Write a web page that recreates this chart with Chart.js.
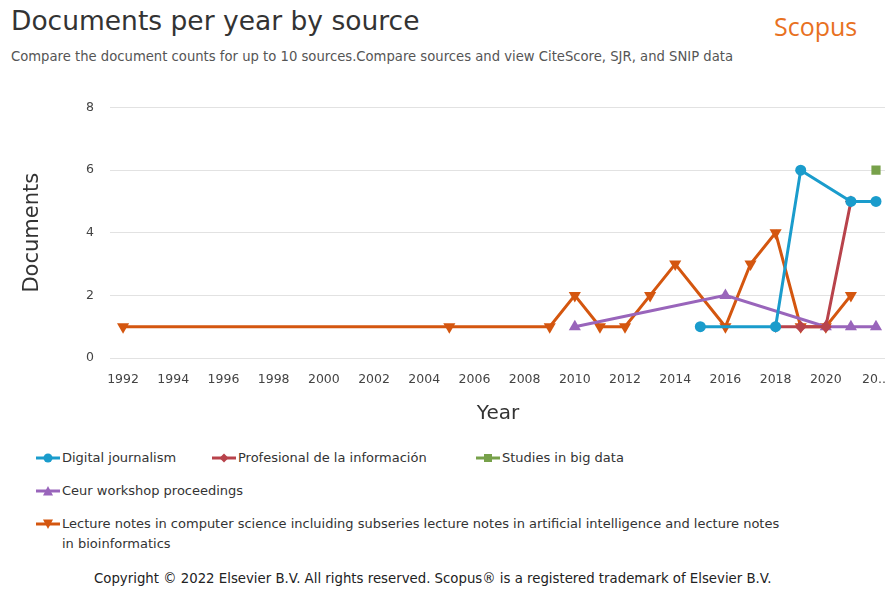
<!DOCTYPE html>
<html>
<head>
<meta charset="utf-8">
<script src="https://cdn.jsdelivr.net/npm/chart.js@4.4.1/dist/chart.umd.min.js"></script>
<style>
  body { margin: 0; width: 885px; height: 590px; background: #fff; font-family: "DejaVu Sans", sans-serif; color: #333; position: relative; overflow: hidden; }
  #title { position: absolute; left: 11px; top: 5px; font-size: 26.5px; color: #333; }
  #brand { position: absolute; left: 774px; top: 9px; font-size: 25px; color: #e8711f; font-family: "Open Sans", sans-serif; }
  #subtitle { position: absolute; left: 11px; top: 49px; font-size: 13.2px; color: #555; }
  #wrap { position: absolute; left: 0; top: 84px; width: 904px; height: 346px; }
  #legend { position: absolute; left: 36px; top: 448px; width: 760px; font-size: 13px; color: #333; }
  .item { position: absolute; display: flex; align-items: flex-start; line-height: 20px; }
  .item svg { flex: none; margin-top: 3px; margin-right: 2px; }
  #copy { position: absolute; left: 94px; top: 571px; font-size: 13.3px; color: #222; }
</style>
</head>
<body>
<div id="title">Documents per year by source</div>
<div id="brand">Scopus</div>
<div id="subtitle">Compare the document counts for up to 10 sources.Compare sources and view CiteScore, SJR, and SNIP data</div>
<div id="wrap"><canvas id="chart"></canvas></div>
<div id="legend"></div>
<div id="copy">Copyright © 2022 Elsevier B.V. All rights reserved. Scopus® is a registered trademark of Elsevier B.V.</div>
<script>
// tick labels for the x axis
const tickYears = [1992, 1994, 1996, 1998, 2000, 2002, 2004, 2006, 2008, 2010, 2012, 2014, 2016, 2018, 2020, 2022];

// Digital journalism
const djYears = [2015, 2018, 2019, 2021, 2022];
const djDocs = [1, 1, 6, 5, 5];

// Profesional de la información
const piYears = [2018, 2019, 2020, 2021];
const piDocs = [1, 1, 1, 5];

// Studies in big data
const sbdYears = [2022];
const sbdDocs = [6];

// Ceur workshop proceedings
const ceurYears = [2010, 2016, 2020, 2021, 2022];
const ceurDocs = [1, 2, 1, 1, 1];

// Lecture notes in computer science ...
const lncsYears = [1992, 2005, 2009, 2010, 2011, 2012, 2013, 2014, 2016, 2017, 2018, 2019, 2020, 2021];
const lncsDocs = [1, 1, 1, 2, 1, 1, 2, 3, 1, 3, 4, 1, 1, 2];

const seriesNames = [
    'Digital journalism',
    'Profesional de la información',
    'Studies in big data',
    'Ceur workshop proceedings',
    'Lecture notes in computer science incluiding subseries lecture notes in artificial intelligence and lecture notes in bioinformatics'
];

function points(years, docs) {
    return years.map((y, i) => ({ x: y, y: docs[i] }));
}

const styles = [
    { color: '#1a9ccc', pointStyle: 'circle', radius: 5.5, rotation: 0 },
    { color: '#b8434b', pointStyle: 'rectRot', radius: 6, rotation: 0 },
    { color: '#77a14a', pointStyle: 'rect', radius: 6.5, rotation: 0 },
    { color: '#9965bb', pointStyle: 'triangle', radius: 7, rotation: 0 },
    { color: '#d4560f', pointStyle: 'triangle', radius: 7, rotation: 180 }
];

const allData = [
    points(djYears, djDocs),
    points(piYears, piDocs),
    points(sbdYears, sbdDocs),
    points(ceurYears, ceurDocs),
    points(lncsYears, lncsDocs)
];

const datasets = allData.map((d, i) => ({
    label: seriesNames[i],
    data: d,
    borderColor: styles[i].color,
    backgroundColor: styles[i].color,
    borderWidth: 3,
    pointStyle: styles[i].pointStyle,
    pointRadius: styles[i].radius,
    pointRotation: styles[i].rotation,
    pointBorderWidth: 0,
    tension: 0,
    order: i
}));

const ctx = document.getElementById('chart').getContext('2d');
new Chart(ctx, {
    type: 'line',
    data: { datasets: datasets },
    options: {
        responsive: true,
        maintainAspectRatio: false,
        animation: false,
        layout: { padding: { top: 4, right: 0, left: 0, bottom: 0 } },
        plugins: {
            legend: { display: false },
            tooltip: { enabled: false }
        },
        scales: {
            x: {
                type: 'linear',
                min: 1991.48,
                max: 2022.4,
                grid: { display: false, drawTicks: false },
                border: { display: false },
                afterBuildTicks: (axis) => {
                    axis.ticks = tickYears.map((v) => ({ value: v }));
                },
                ticks: {
                    autoSkip: false,
                    maxRotation: 0,
                    padding: 14,
                    color: '#444',
                    font: { family: 'DejaVu Sans', size: 12.5 },
                    callback: (v) => (v === 2022 ? '20...' : String(v))
                },
                title: {
                    display: true,
                    text: 'Year',
                    color: '#333',
                    font: { family: 'DejaVu Sans', size: 20 },
                    padding: { top: 4 }
                },
                afterFit: (axis) => { axis.height = 72; }
            },
            y: {
                min: 0,
                max: 8,
                grid: { color: '#e2e2e2', lineWidth: 1, drawTicks: false },
                border: { display: false },
                ticks: {
                    stepSize: 2,
                    padding: 16,
                    color: '#444',
                    font: { family: 'DejaVu Sans', size: 12.5 }
                },
                title: {
                    display: true,
                    text: 'Documents',
                    color: '#333',
                    font: { family: 'DejaVu Sans', size: 21 },
                    padding: { top: 20, bottom: 4 }
                },
                afterFit: (axis) => { axis.width = 110; }
            }
        }
    }
});

// HTML legend built from the series
const legendPos = [
    { left: 0, top: 0 },
    { left: 176, top: 0 },
    { left: 440, top: 0 },
    { left: 0, top: 33 },
    { left: 0, top: 66 }
];
const legend = document.getElementById('legend');
seriesNames.forEach((name, i) => {
    const st = styles[i];
    const item = document.createElement('div');
    item.className = 'item';
    item.style.left = legendPos[i].left + 'px';
    item.style.top = legendPos[i].top + 'px';
    if (i === 4) item.style.width = '745px';
    let marker = '';
    if (st.pointStyle === 'circle') marker = `<circle cx="12" cy="7" r="4.5" fill="${st.color}"/>`;
    else if (st.pointStyle === 'rectRot') marker = `<polygon points="12,2.5 16.5,7 12,11.5 7.5,7" fill="${st.color}"/>`;
    else if (st.pointStyle === 'rect') marker = `<rect x="8" y="3" width="8" height="8" fill="${st.color}"/>`;
    else if (st.rotation === 180) marker = `<polygon points="7,2.5 17,2.5 12,12" fill="${st.color}"/>`;
    else marker = `<polygon points="12,2 17,11.5 7,11.5" fill="${st.color}"/>`;
    item.innerHTML = `<svg width="24" height="14"><line x1="0" y1="7" x2="24" y2="7" stroke="${st.color}" stroke-width="3"/>${marker}</svg><span>${name}</span>`;
    legend.appendChild(item);
});
</script>
</body>
</html>
